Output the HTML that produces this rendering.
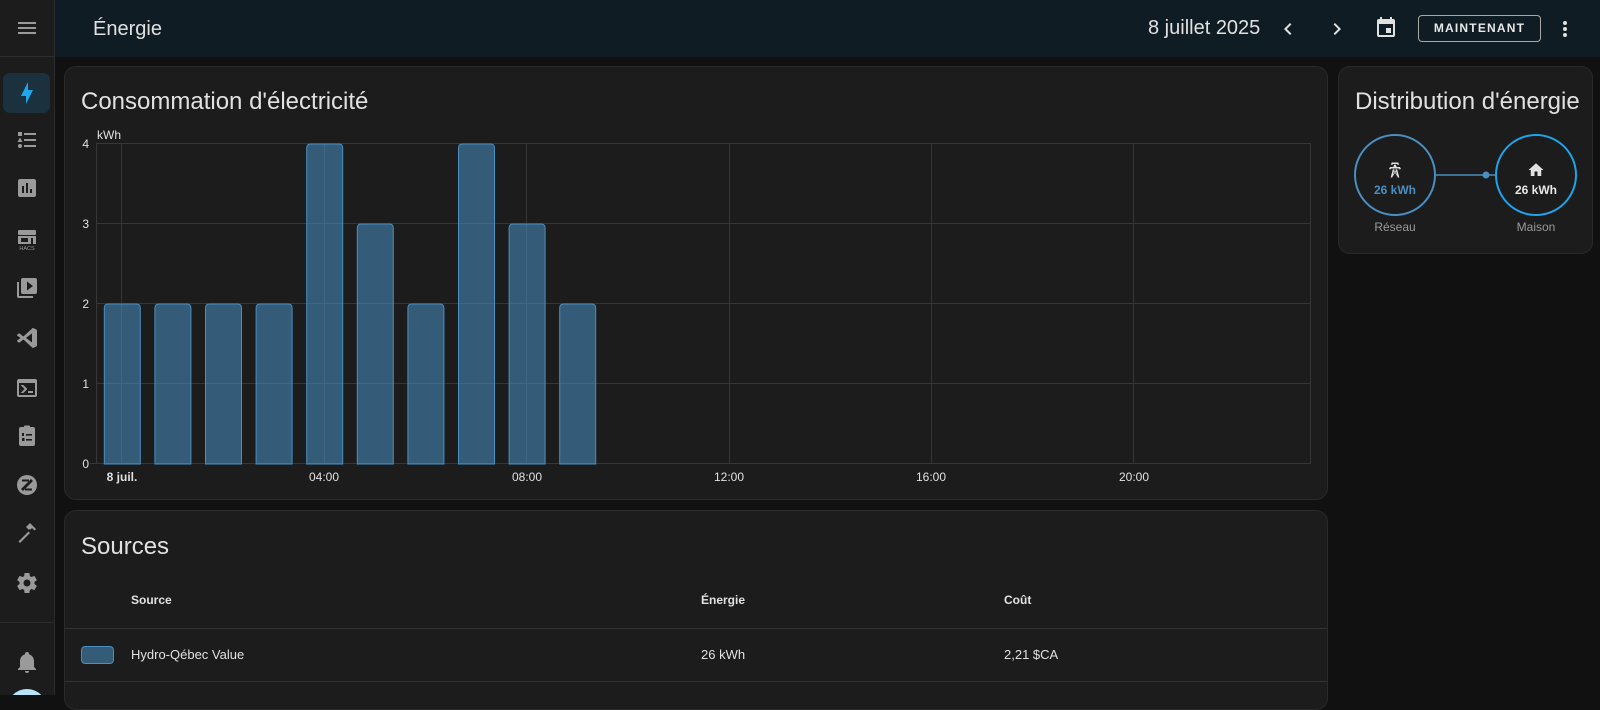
<!DOCTYPE html>
<html><head><meta charset="utf-8">
<style>
*{margin:0;padding:0;box-sizing:border-box}
html,body{width:1600px;height:695px;overflow:hidden;background:#111111;font-family:"Liberation Sans",Arial,sans-serif;color:#e1e1e1}
.abs{position:absolute;white-space:nowrap}
#side{position:absolute;left:0;top:0;width:55px;height:695px;background:#1c1c1c;border-right:1px solid #2c2c2c}
#sidetop{position:absolute;left:0;top:0;width:54px;height:57px;border-bottom:1px solid #2c2c2c}
#hdr{position:absolute;left:55px;top:0;width:1545px;height:57px;background:#101c23}
.card{position:absolute;background:#1c1c1c;border:1px solid #2a2a2a;border-radius:12px}
.t24{font-size:24px;line-height:30px}
.btn{position:absolute;left:1418px;top:15px;width:123px;height:27px;border:1px solid #a9a9a9;border-radius:4px;font-size:12px;font-weight:bold;letter-spacing:1.2px;text-align:center;line-height:25px;color:#e8e8e8}
.th{font-size:12px;font-weight:bold;line-height:16px}
.td{font-size:13px;line-height:16px}
</style></head><body>
<div id="side"><div id="sidetop"></div>
<div style="position:absolute;left:0;top:622px;width:54px;height:1px;background:#2c2c2c"></div>
<div style="position:absolute;left:3px;top:73px;width:47px;height:40px;background:#1b313e;border-radius:7px"></div>
</div>
<div id="hdr"></div>
<div class="abs" style="left:93px;top:17px;font-size:20px;line-height:24px">Énergie</div>
<div class="abs" style="left:1148px;top:16px;font-size:20px;line-height:24px">8 juillet 2025</div>
<div class="btn">MAINTENANT</div>

<div class="card" style="left:64px;top:66px;width:1264px;height:434px"></div>
<div class="card" style="left:1338px;top:66px;width:255px;height:188px"></div>
<div class="card" style="left:64px;top:510px;width:1264px;height:200px"></div>

<div class="abs t24" style="left:81px;top:87px">Consommation d'électricité</div>
<div class="abs t24" style="left:1355px;top:87px">Distribution d'énergie</div>
<div class="abs t24" style="left:81px;top:532px">Sources</div>

<div class="abs th" style="left:131px;top:592px">Source</div>
<div class="abs th" style="left:701px;top:592px">Énergie</div>
<div class="abs th" style="left:1004px;top:592px">Coût</div>
<div style="position:absolute;left:65px;top:628px;width:1262px;height:1px;background:#323232"></div>
<div style="position:absolute;left:81px;top:646px;width:33px;height:18px;border-radius:4px;background:rgba(72,143,194,0.55);border:1px solid #488fc2"></div>
<div class="abs td" style="left:131px;top:647px">Hydro-Qébec Value</div>
<div class="abs td" style="left:701px;top:647px">26 kWh</div>
<div class="abs td" style="left:1004px;top:647px">2,21 $CA</div>
<div style="position:absolute;left:65px;top:681px;width:1262px;height:1px;background:#323232"></div>

<svg width="1600" height="695" style="position:absolute;left:0;top:0" xmlns="http://www.w3.org/2000/svg" font-family="Liberation Sans, Arial, sans-serif">
<!-- grid -->
<g stroke="#363636" stroke-width="1" fill="none">
<line x1="96" y1="143.5" x2="1311" y2="143.5"/>
<line x1="96" y1="223.5" x2="1311" y2="223.5"/>
<line x1="96" y1="303.5" x2="1311" y2="303.5"/>
<line x1="96" y1="383.5" x2="1311" y2="383.5"/>
<line x1="90" y1="463.5" x2="1311" y2="463.5"/>
<line x1="96.5" y1="143" x2="96.5" y2="464"/>
<line x1="121.5" y1="143" x2="121.5" y2="464"/>
<line x1="324.5" y1="143" x2="324.5" y2="464"/>
<line x1="526.5" y1="143" x2="526.5" y2="464"/>
<line x1="729.5" y1="143" x2="729.5" y2="464"/>
<line x1="931.5" y1="143" x2="931.5" y2="464"/>
<line x1="1133.5" y1="143" x2="1133.5" y2="464"/>
<line x1="1310.5" y1="143" x2="1310.5" y2="464"/>
</g>
<!-- bars -->
<g fill="rgba(72,143,194,0.55)" stroke="#488fc2" stroke-width="1">
<path d="M104.3,464 V308 Q104.3,304 108.3,304 H136.3 Q140.3,304 140.3,308 V464 Z"/>
<path d="M154.9,464 V308 Q154.9,304 158.9,304 H186.9 Q190.9,304 190.9,308 V464 Z"/>
<path d="M205.5,464 V308 Q205.5,304 209.5,304 H237.5 Q241.5,304 241.5,308 V464 Z"/>
<path d="M256.1,464 V308 Q256.1,304 260.1,304 H288.1 Q292.1,304 292.1,308 V464 Z"/>
<path d="M306.7,464 V148 Q306.7,144 310.7,144 H338.7 Q342.7,144 342.7,148 V464 Z"/>
<path d="M357.3,464 V228 Q357.3,224 361.3,224 H389.3 Q393.3,224 393.3,228 V464 Z"/>
<path d="M407.9,464 V308 Q407.9,304 411.9,304 H439.9 Q443.9,304 443.9,308 V464 Z"/>
<path d="M458.5,464 V148 Q458.5,144 462.5,144 H490.5 Q494.5,144 494.5,148 V464 Z"/>
<path d="M509.1,464 V228 Q509.1,224 513.1,224 H541.1 Q545.1,224 545.1,228 V464 Z"/>
<path d="M559.7,464 V308 Q559.7,304 563.7,304 H591.7 Q595.7,304 595.7,308 V464 Z"/>
</g>
<!-- axis labels -->
<g fill="#e1e1e1" font-size="12">
<text x="97" y="139">kWh</text>
<text x="89" y="148" text-anchor="end">4</text>
<text x="89" y="228" text-anchor="end">3</text>
<text x="89" y="308" text-anchor="end">2</text>
<text x="89" y="388" text-anchor="end">1</text>
<text x="89" y="468" text-anchor="end">0</text>
<text x="122" y="481" text-anchor="middle" font-weight="bold">8 juil.</text>
<text x="324" y="481" text-anchor="middle">04:00</text>
<text x="527" y="481" text-anchor="middle">08:00</text>
<text x="729" y="481" text-anchor="middle">12:00</text>
<text x="931" y="481" text-anchor="middle">16:00</text>
<text x="1134" y="481" text-anchor="middle">20:00</text>
</g>
<!-- distribution -->
<line x1="1436" y1="175" x2="1496" y2="175" stroke="#488fc2" stroke-width="1.5"/>
<circle cx="1486" cy="175" r="3.5" fill="#488fc2"/>
<circle cx="1395" cy="175" r="40" fill="none" stroke="#488fc2" stroke-width="2"/>
<circle cx="1536" cy="175" r="40" fill="none" stroke="#1ea4e8" stroke-width="2"/>
<g transform="translate(1386,161) scale(0.75)" fill="#e1e1e1"><path d="M8.28,5.45L6.5,4.55L7.76,2H16.23L17.5,4.55L15.72,5.44L15,4H9L8.28,5.45M18.62,8H14.09L13.3,5H10.7L9.91,8H5.38L4.1,10.55L5.89,11.44L6.62,10H17.38L18.1,11.45L19.89,10.56L18.62,8M17.77,22H15.7L15.46,21.1L12,15.9L8.53,21.1L8.3,22H6.23L9.12,11H11.19L10.83,12.35L12,14.1L13.16,12.35L12.81,11H14.88L17.77,22M11.4,15L10.5,13.65L9.32,18.13L11.4,15M14.68,18.12L13.5,13.64L12.6,15L14.68,18.12Z"/></g>
<g transform="translate(1527,161) scale(0.75)" fill="#e1e1e1"><path d="M10,20V14H14V20H19V12H22L12,3L2,12H5V20H10Z"/></g>
<text x="1395" y="194" text-anchor="middle" font-size="12" font-weight="bold" fill="#488fc2">26 kWh</text>
<text x="1536" y="194" text-anchor="middle" font-size="12" font-weight="bold" fill="#e8e8e8">26 kWh</text>
<text x="1395" y="231" text-anchor="middle" font-size="12" fill="#9a9a9a">Réseau</text>
<text x="1536" y="231" text-anchor="middle" font-size="12" fill="#9a9a9a">Maison</text>
<!-- header icons -->
<g fill="#e1e1e1">
<g transform="translate(1276,17)"><path d="M15.41,16.58L10.83,12L15.41,7.41L14,6L8,12L14,18L15.41,16.58Z"/></g>
<g transform="translate(1325,17)"><path d="M8.59,16.58L13.17,12L8.59,7.41L10,6L16,12L10,18L8.59,16.58Z"/></g>
<g transform="translate(1374,16)"><path fill-rule="evenodd" d="M5,3H6V1H8V3H16V1H18V3H19A2,2 0 0,1 21,5V19A2,2 0 0,1 19,21H5A2,2 0 0,1 3,19V5A2,2 0 0,1 5,3M5,8V19H19V8Z"/><rect x="12" y="12" width="5" height="5"/></g>
<g transform="translate(1553,17)"><path d="M12,16A2,2 0 0,1 14,18A2,2 0 0,1 12,20A2,2 0 0,1 10,18A2,2 0 0,1 12,16M12,10A2,2 0 0,1 14,12A2,2 0 0,1 12,14A2,2 0 0,1 10,12A2,2 0 0,1 12,10M12,4A2,2 0 0,1 14,6A2,2 0 0,1 12,8A2,2 0 0,1 10,6A2,2 0 0,1 12,4Z"/></g>
</g>
<!-- sidebar icons -->
<g fill="#9a9a9a">
<g transform="translate(15,16)"><path d="M3,6H21V8H3V6M3,11H21V13H3V11M3,16H21V18H3V16Z"/></g>
<g transform="translate(15,81)" fill="#1ea7ee"><path d="M11,15H6L13,1V9H18L11,23V15Z"/></g>
<g transform="translate(15,128)"><path d="M5,9.5L7.5,14H2.5L5,9.5M3,4H7V8H3V4M5,20A2,2 0 0,0 7,18A2,2 0 0,0 5,16A2,2 0 0,0 3,18A2,2 0 0,0 5,20M9,5V7H21V5H9M9,19H21V17H9V19M9,13H21V11H9V13Z"/></g>
<g transform="translate(15,176)"><path d="M19,3H5C3.89,3 3,3.89 3,5V19A2,2 0 0,0 5,21H19A2,2 0 0,0 21,19V5C21,3.89 20.1,3 19,3M9,17H7V10H9V17M13,17H11V7H13V17M17,17H15V13H17V17Z"/></g>
<g transform="translate(15,228)"><rect x="3" y="2" width="18" height="5" rx="1"/><rect x="3" y="8" width="18" height="8"/><rect x="6" y="10" width="7" height="4" fill="#1c1c1c"/><rect x="16" y="10" width="2" height="6" fill="#1c1c1c"/><text x="12" y="22" font-size="5.5" text-anchor="middle" fill="#9a9a9a">HACS</text></g>
<g transform="translate(15,276)"><path fill-rule="evenodd" d="M4,6H2V20A2,2 0 0,0 4,22H18V20H4V6M20,2H8A2,2 0 0,0 6,4V16A2,2 0 0,0 8,18H20A2,2 0 0,0 22,16V4A2,2 0 0,0 20,2M12,5.5V14.5L18,10Z"/></g>
<g transform="translate(15,326)"><path fill-rule="evenodd" d="M2.22,9.59C2,9.34 2,9 2.22,8.78L3.55,7.54C3.77,7.34 4.2,7.25 4.5,7.5L8.39,10.5L17.39,2.25C17.76,1.88 18.4,2.03 18.63,2.28L21.53,3.62C21.81,3.77 22,4.04 22,4.34V19.66C22,19.96 21.8,20.23 21.53,20.38L18.63,21.72C18.38,21.97 17.76,22.12 17.39,21.75L8.39,13.5L4.5,16.5C4.2,16.75 3.77,16.66 3.55,16.46L2.22,15.22C2,15 2,14.66 2.22,14.41L5.57,12L2.22,9.59ZM17,16.47V7.39L11,11.93Z"/></g>
<g transform="translate(15,376)"><path d="M20,19V7H4V19H20M20,3A2,2 0 0,1 22,5V19A2,2 0 0,1 20,21H4A2,2 0 0,1 2,19V5C2,3.89 2.9,3 4,3H20M13,17V15H18V17H13M9.58,13L5.57,9H8.4L11.7,12.3C12.09,12.69 12.09,13.33 11.7,13.72L8.42,17H5.59L9.58,13Z"/></g>
<g transform="translate(15,424)"><rect x="4" y="3" width="16" height="19" rx="2"/><rect x="9" y="1.5" width="6" height="3" rx="1"/><g fill="#1c1c1c"><rect x="7" y="9" width="2" height="3"/><rect x="11" y="10" width="6" height="1.6"/><rect x="7" y="14" width="2.5" height="3"/><rect x="11" y="15" width="6" height="1.6"/></g></g>
<g transform="translate(15,473)"><circle cx="12" cy="12" r="10"/><path d="M6,16 L16,6 L18,8 L8,18Z" fill="#1c1c1c"/><rect x="7" y="6.5" width="7" height="2" fill="#1c1c1c"/><rect x="10" y="15.5" width="7" height="2" fill="#1c1c1c"/></g>
<g transform="translate(15,521)"><path d="M3.5,20.5 L13.5,10.5 L15,12 L5,22Z"/><path d="M11,6 L15,2 L21,8 L19.5,9.5 L17,7 L15.5,8.5 L13.5,8.5Z"/></g>
<g transform="translate(15,571)"><path d="M12,15.5A3.5,3.5 0 0,1 8.5,12A3.5,3.5 0 0,1 12,8.5A3.5,3.5 0 0,1 15.5,12A3.5,3.5 0 0,1 12,15.5M19.43,12.97C19.47,12.65 19.5,12.33 19.5,12C19.5,11.67 19.47,11.34 19.43,11L21.54,9.37C21.73,9.22 21.78,8.95 21.66,8.73L19.66,5.27C19.54,5.05 19.27,4.96 19.05,5.05L16.56,6.05C16.04,5.66 15.5,5.32 14.87,5.07L14.5,2.42C14.46,2.18 14.25,2 14,2H10C9.75,2 9.54,2.18 9.5,2.42L9.13,5.07C8.5,5.32 7.96,5.66 7.44,6.05L4.95,5.05C4.73,4.96 4.46,5.05 4.34,5.27L2.34,8.73C2.21,8.95 2.27,9.22 2.46,9.37L4.57,11C4.53,11.34 4.5,11.67 4.5,12C4.5,12.33 4.53,12.65 4.57,12.97L2.46,14.63C2.27,14.78 2.21,15.05 2.34,15.27L4.34,18.73C4.46,18.95 4.73,19.03 4.95,18.95L7.44,17.94C7.96,18.34 8.5,18.68 9.13,18.93L9.5,21.58C9.54,21.82 9.75,22 10,22H14C14.25,22 14.46,21.82 14.5,21.58L14.87,18.93C15.5,18.67 16.04,18.34 16.56,17.94L19.05,18.95C19.27,19.03 19.54,18.95 19.66,18.73L21.66,15.27C21.78,15.05 21.73,14.78 21.54,14.63L19.43,12.97Z"/></g>
<g transform="translate(15,650)"><path d="M21,19V20H3V19L5,17V11C5,7.9 7.03,5.17 10,4.29C10,4.19 10,4.1 10,4A2,2 0 0,1 12,2A2,2 0 0,1 14,4C14,4.1 14,4.19 14,4.29C16.97,5.17 19,7.9 19,11V17L21,19M14,21A2,2 0 0,1 12,23A2,2 0 0,1 10,21"/></g>
</g>
<circle cx="27" cy="709" r="20" fill="#b8e4fb"/>
</svg>
</body></html>
